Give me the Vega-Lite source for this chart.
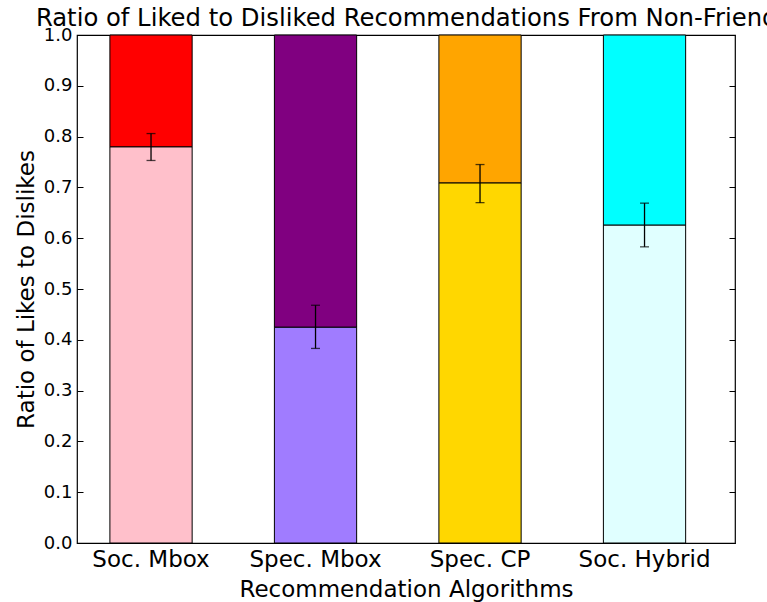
{
  "$schema": "https://vega.github.io/schema/vega-lite/v6.json",
  "width": 658,
  "height": 508,
  "autosize": "none",
  "padding": {"left": 77, "top": 35, "right": 32, "bottom": 59},
  "background": "white",
  "title": {
    "text": "Ratio of Liked to Disliked Recommendations From Non-Friends",
    "font": "DejaVu Sans",
    "fontSize": 24.3,
    "fontWeight": "normal",
    "color": "black",
    "anchor": "middle",
    "offset": 9,
    "dy": 14,
    "dx": 7
  },
  "data": {
    "values": [
      {"algorithm": "Soc. Mbox", "liked": 0.78, "disliked": 0.22, "lo": 0.753, "hi": 0.806},
      {"algorithm": "Spec. Mbox", "liked": 0.425, "disliked": 0.575, "lo": 0.383, "hi": 0.468},
      {"algorithm": "Spec. CP", "liked": 0.709, "disliked": 0.291, "lo": 0.670, "hi": 0.745},
      {"algorithm": "Soc. Hybrid", "liked": 0.626, "disliked": 0.374, "lo": 0.583, "hi": 0.669}
    ]
  },
  "layer": [
    {
      "transform": [
        {"fold": ["liked", "disliked"], "as": ["outcome", "ratio"]},
        {"calculate": "datum.algorithm + '|' + datum.outcome", "as": "segment"}
      ],
      "mark": {"type": "bar", "stroke": "black", "strokeWidth": 1, "opacity": 1},
      "encoding": {
        "x": {
          "field": "algorithm",
          "type": "nominal",
          "sort": ["Soc. Mbox", "Spec. Mbox", "Spec. CP", "Soc. Hybrid"],
          "scale": {"type": "band", "paddingInner": 0.5, "paddingOuter": 0.25, "align": 0.4},
          "axis": {
            "orient": "bottom",
            "title": "Recommendation Algorithms",
            "labelAngle": 0,
            "labelFontSize": 23,
            "titleFontSize": 23,
            "tickSize": -6,
            "labelPadding": 11,
            "titlePadding": 7
          }
        },
        "y": {
          "field": "ratio",
          "type": "quantitative",
          "stack": "zero",
          "scale": {"domain": [0, 1], "nice": false, "zero": true},
          "axis": {
            "orient": "left",
            "title": "Ratio of Likes to Dislikes",
            "values": [0, 0.1, 0.2, 0.3, 0.4, 0.5, 0.6, 0.7, 0.8, 0.9, 1.0],
            "format": ".1f",
            "labelFontSize": 18,
            "titleFontSize": 23,
            "tickSize": -6,
            "labelPadding": 11,
            "titlePadding": 5
          }
        },
        "order": {"field": "outcome", "sort": "descending"},
        "color": {
          "field": "segment",
          "type": "nominal",
          "legend": null,
          "scale": {
            "domain": [
              "Soc. Mbox|liked", "Soc. Mbox|disliked",
              "Spec. Mbox|liked", "Spec. Mbox|disliked",
              "Spec. CP|liked", "Spec. CP|disliked",
              "Soc. Hybrid|liked", "Soc. Hybrid|disliked"
            ],
            "range": [
              "#FFC0CB", "#FF0000",
              "#A07CFF", "#800080",
              "#FFD700", "#FFA500",
              "#E0FFFF", "#00FFFF"
            ]
          }
        }
      }
    },
    {
      "mark": {
        "type": "errorbar",
        "color": "black",
        "rule": {"strokeWidth": 1.3, "color": "black"},
        "ticks": {"size": 9, "thickness": 1.3, "color": "black"}
      },
      "encoding": {
        "x": {
          "field": "algorithm",
          "type": "nominal",
          "sort": ["Soc. Mbox", "Spec. Mbox", "Spec. CP", "Soc. Hybrid"],
          "axis": {"orient": "top", "title": null, "labels": false, "tickSize": -6}
        },
        "y": {
          "field": "lo",
          "type": "quantitative",
          "scale": {"domain": [0, 1], "nice": false},
          "axis": {
            "orient": "right",
            "title": null,
            "labels": false,
            "tickSize": -6,
            "values": [0, 0.1, 0.2, 0.3, 0.4, 0.5, 0.6, 0.7, 0.8, 0.9, 1.0]
          }
        },
        "y2": {"field": "hi"}
      }
    }
  ],
  "resolve": {"axis": {"x": "independent", "y": "independent"}},
  "config": {
    "font": "DejaVu Sans",
    "view": {"stroke": "black", "strokeWidth": 1.2},
    "axis": {
      "domain": false,
      "grid": false,
      "tickColor": "black",
      "tickWidth": 1,
      "labelColor": "black",
      "titleColor": "black",
      "labelFont": "DejaVu Sans",
      "titleFont": "DejaVu Sans",
      "titleFontWeight": "normal"
    }
  }
}
